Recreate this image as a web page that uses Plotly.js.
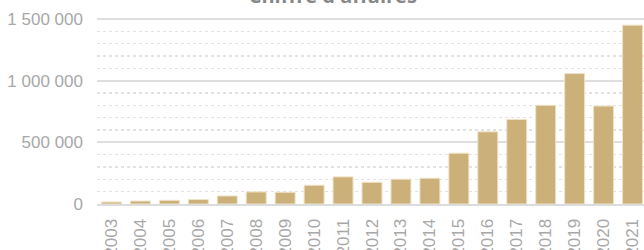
<!DOCTYPE html>
<html><head><meta charset="utf-8">
<script src="https://cdn.plot.ly/plotly-3.0.1.min.js"></script>
<style>html,body{margin:0;padding:0;overflow:hidden;width:644px;height:250px;background:#fff}
#chart{position:absolute;left:0;top:-20px;width:650px;height:270px}</style>
</head><body><div id="chart"></div>
<script>
const years = ['2003','2004','2005','2006','2007','2008','2009','2010','2011','2012','2013','2014','2015','2016','2017','2018','2019','2020','2021'];
const revenue = [16000,24000,30000,36000,65000,98000,95000,152000,220000,176000,201000,209000,412000,585000,686000,800000,1057000,794000,1450000];
const chartTitle = "Chiffre d'affaires";

Plotly.newPlot('chart', [{
  type: 'bar', x: years, y: revenue,
  marker: {color: '#ccb07a', line: {color: '#efe3c6', width: 1}},
  width: 0.69, hoverinfo: 'none'
}], {
  width: 650, height: 270,
  margin: {l: 97, r: 3, t: 36, b: 46},
  separators: ', ',
  paper_bgcolor: '#fff', plot_bgcolor: '#fff',
  title: {text: chartTitle, font: {family: 'Open Sans', size: 20, color: '#888888', weight: 'bold'},
          xref: 'container', x: 0.512, xanchor: 'center', yref: 'container', y: 1, yanchor: 'top', pad: {t: 9}},
  xaxis: {type: 'category', tickangle: -90, showgrid: false, ticks: '', ticklabelstandoff: 6,
          tickfont: {family: 'Liberation Sans', size: 17, color: '#a8a8a8'},
          showline: true, linecolor: '#dcdcdc', linewidth: 2, range: [-0.5, 18.5]},
  yaxis: {range: [0, 1524000], dtick: 500000, tick0: 0, tickformat: ',d', ticks: '', ticklabelstandoff: 13,
          tickfont: {family: 'Liberation Sans', size: 17, color: '#a8a8a8'},
          showgrid: true, gridcolor: '#dedede', gridwidth: 2, zeroline: false,
          minor: {dtick: 100000, showgrid: true, gridcolor: '#e2e2e2', gridwidth: 1.5, griddash: 'dot'}},
  showlegend: false, bargap: 0.31
}, {displayModeBar: false, staticPlot: true});
</script></body></html>
